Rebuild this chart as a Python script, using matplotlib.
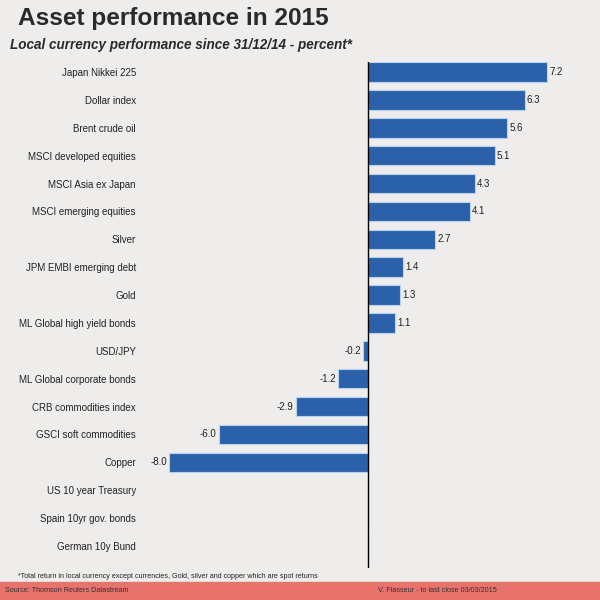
import matplotlib
matplotlib.use("Agg")
import matplotlib.pyplot as plt
import numpy as np

categories = ["Japan Nikkei 225", "Dollar index", "Brent crude oil", "MSCI developed equities",
              "MSCI Asia ex Japan", "MSCI emerging equities", "Silver", "JPM EMBI emerging debt",
              "Gold", "ML Global high yield bonds", "USD/JPY", "ML Global corporate bonds",
              "CRB commodities index", "GSCI soft commodities", "Copper", "US 10 year Treasury",
              "Spain 10yr gov. bonds", "German 10y Bund"]
values = [7.2, 6.3, 5.6, 5.1, 4.3, 4.1, 2.7, 1.4, 1.3, 1.1, -0.2, -1.2, -2.9, -6.0, -8.0,
          np.nan, np.nan, np.nan]

plt.rcParams['font.family'] = ['Liberation Sans', 'DejaVu Sans']
bg = "#eeedeb"
fig = plt.figure(figsize=(6, 6), dpi=100, facecolor=bg)

W, H = 600, 600
left, right, top, bottom = 140, 590, 62, 568
ax = fig.add_axes([left / W, 1 - bottom / H, (right - left) / W, (bottom - top) / H])
ax.set_facecolor(bg)

y = np.arange(len(categories))
vals = np.array(values, dtype=float)
ax.barh(y, np.nan_to_num(vals), height=0.7, color="#2b61aa", edgecolor="#b9d3ee", linewidth=0.8, zorder=2)
for yi, v in zip(y, vals):
    if np.isnan(v):
        continue
    if v >= 0:
        ax.text(v + 0.08, yi, f"{v:.1f}", va="center", ha="left", fontsize=7, color="#222222")
    else:
        ax.text(v - 0.08, yi, f"{v:.1f}", va="center", ha="right", fontsize=7, color="#222222")

scale = 24.9
ax.set_xlim(-(368 - left) / scale, (right - 368) / scale)
ax.set_ylim(17 + (bottom - 546) / 27.9, -(72 - top) / 27.9)
ax.axvline(0, color="black", lw=1, zorder=3)
ax.set_yticks(y)
ax.set_yticklabels(categories, fontsize=7, color="#222222")
ax.tick_params(axis="y", length=0, pad=3)
ax.set_xticks([])
for s in ax.spines.values():
    s.set_visible(False)

fig.text(18 / W, 1 - 18 / H, "Asset performance in 2015", fontsize=17.6, fontweight="bold",
         color="#2a2a2a", va="center", ha="left")
fig.text(10 / W, 1 - 45 / H, "Local currency performance since 31/12/14 - percent*", fontsize=9.75,
         fontweight="bold", style="italic", color="#2a2a2a", va="center", ha="left")
fig.text(18 / W, 1 - 577 / H, "*Total return in local currency except currencies, Gold, silver and copper which are spot returns",
         fontsize=5.15, color="#222222", va="center", ha="left")

band = plt.Rectangle((0, 0), 1, 18 / H, transform=fig.transFigure, color="#e8736c", zorder=0)
fig.patches.append(band)
fig.text(5 / W, 9 / H, "Source: Thomson Reuters Datastream", fontsize=5.2, color="#333333", va="center", ha="left")
fig.text(437 / W, 9 / H, "V. Flasseur - to last close 03/03/2015", fontsize=5.2, color="#333333", va="center", ha="center")

fig.savefig("out.png", dpi=100, facecolor=bg)
